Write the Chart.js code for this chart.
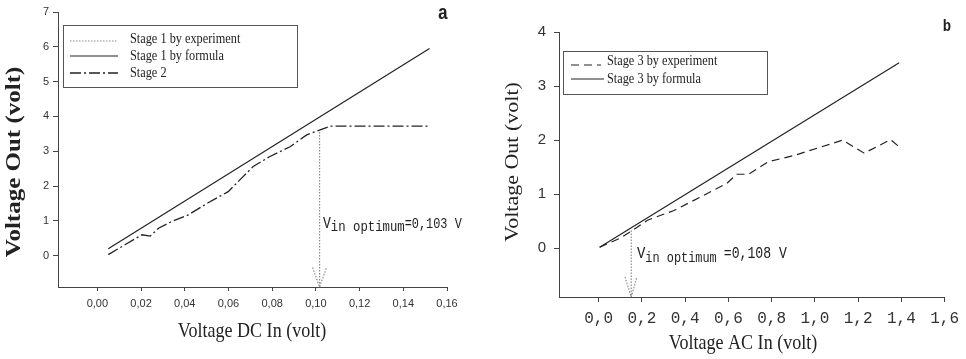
<!DOCTYPE html>
<html>
<head>
<meta charset="utf-8">
<script src="https://cdn.jsdelivr.net/npm/chart.js"></script>
<style>
	body { margin: 0; background: #fff; }
	#wrap { position: relative; width: 966px; height: 359px; overflow: hidden; }
	canvas { position: absolute; top: 0; }
	#chart-a { left: 0; }
	#chart-b { left: 480px; }
</style>
</head>
<body>
<div id="wrap">
	<canvas id="chart-a" width="480" height="359"></canvas>
	<canvas id="chart-b" width="486" height="359"></canvas>
</div>
<script>
// ---- panel a (DC) ----
const xTicksA = [0, 0.02, 0.04, 0.06, 0.08, 0.1, 0.12, 0.14, 0.16]
const xLabelsA = ['0,00', '0,02', '0,04', '0,06', '0,08', '0,10', '0,12', '0,14', '0,16']
const yTicksA = [0, 1, 2, 3, 4, 5, 6, 7]

const stage1FormulaX = [0.005, 0.152]
const stage1FormulaY = [0.2, 5.95]
const stage2X = [0.005, 0.0128, 0.0204, 0.0242, 0.028, 0.034, 0.0416, 0.0507, 0.0599, 0.0667, 0.0713, 0.079, 0.0882, 0.0958, 0.1065, 0.152]
const stage2Y = [0.03, 0.32, 0.6, 0.56, 0.79, 0.98, 1.17, 1.52, 1.84, 2.27, 2.56, 2.85, 3.13, 3.47, 3.72, 3.72]
// vertical drop at the optimum (dotted)
const stage1ExpX = [0.1017, 0.1017]
const stage1ExpY = [3.55, -0.9]
const arrowAX = [0.0985, 0.1017, 0.1049]
const arrowAY = [-0.34, -0.9, -0.34]

// ---- panel b (AC) ----
const xTicksB = [0, 0.2, 0.4, 0.6, 0.8, 1.0, 1.2, 1.4, 1.6]
const xLabelsB = ['0,0', '0,2', '0,4', '0,6', '0,8', '1,0', '1,2', '1,4', '1,6']
const yTicksB = [0, 1, 2, 3, 4]

const stage3FormulaX = [0.005, 1.39]
const stage3FormulaY = [0.02, 3.43]
const stage3ExpX = [0.005, 0.096, 0.157, 0.226, 0.349, 0.486, 0.593, 0.639, 0.693, 0.784, 0.907, 1.128, 1.228, 1.35, 1.389]
const stage3ExpY = [0.02, 0.18, 0.33, 0.52, 0.7, 0.98, 1.2, 1.37, 1.37, 1.6, 1.72, 2.0, 1.76, 2.01, 1.88]
const dropBX = [0.151, 0.151]
const dropBY = [0.33, -0.9]
const arrowBX = [0.122, 0.151, 0.177]
const arrowBY = [-0.53, -0.9, -0.53]

const toPts = (xs, ys) => xs.map((x, i) => ({ x: x, y: ys[i] }))

const INK = '#222'
const AXIS = '#444'
const GREY = '#8a8a8a'
const SQ = 0.82 // the source picture is squeezed horizontally

function txt(ctx, s, x, y, font, opt) {
	opt = opt || {}
	ctx.save()
	ctx.translate(x, y)
	if (opt.rot) {
		ctx.rotate(-Math.PI / 2)
		ctx.scale(1, SQ)
	} else {
		ctx.scale(SQ, 1)
	}
	ctx.font = font
	ctx.fillStyle = opt.color || INK
	ctx.textAlign = opt.align || 'left'
	ctx.textBaseline = opt.base || 'middle'
	ctx.fillText(s, 0, 0)
	const w = ctx.measureText(s).width * SQ
	ctx.restore()
	return w
}

function line(ctx, x1, y, x2, ds) {
	ctx.save()
	ctx.strokeStyle = ds.borderColor
	ctx.lineWidth = ds.borderWidth
	ctx.setLineDash(ds.borderDash || [])
	ctx.beginPath()
	ctx.moveTo(x1, y)
	ctx.lineTo(x2, y)
	ctx.stroke()
	ctx.restore()
}

function series(label, pts, color, dash, width) {
	return {
		label: label,
		data: pts,
		showLine: true,
		borderColor: color,
		borderWidth: width || 1.2,
		borderDash: dash,
		pointRadius: 0,
		tension: 0,
		fill: false,
	}
}

function axes(xMin, xMax, xTicks, xLabels, yMin, yMax, yTicks, cfg) {
	return {
		x: {
			type: 'linear',
			min: xMin,
			max: xMax,
			afterBuildTicks: s => { s.ticks = xTicks.map(v => ({ value: v })) },
			afterFit: s => { s.height = cfg.xh },
			border: { display: true, color: AXIS, width: 1 },
			grid: { drawOnChartArea: false, drawTicks: true, tickLength: cfg.xtl, color: AXIS },
			ticks: {
				autoSkip: false,
				maxRotation: 0,
				padding: cfg.xpad,
				color: '#333',
				font: cfg.xfont,
				callback: (v, i) => xLabels[i],
			},
		},
		y: {
			type: 'linear',
			min: yMin,
			max: yMax,
			afterBuildTicks: s => { s.ticks = yTicks.map(v => ({ value: v })) },
			afterFit: s => { s.width = cfg.yw },
			border: { display: true, color: AXIS, width: 1 },
			grid: { drawOnChartArea: false, drawTicks: true, tickLength: 5, color: AXIS },
			ticks: {
				autoSkip: false,
				padding: cfg.ypad,
				color: '#333',
				font: cfg.yfont,
				callback: v => String(v),
			},
		},
	}
}

const dsA = [
	series('Stage 1 by experiment', toPts(stage1ExpX, stage1ExpY), GREY, [1.5, 1.5], 1.2),
	series('Stage 1 by formula', toPts(stage1FormulaX, stage1FormulaY), INK, [], 1.2),
	series('Stage 2', toPts(stage2X, stage2Y), INK, [11, 3, 2, 3], 1.3),
	series('arrow', toPts(arrowAX, arrowAY), GREY, [1.5, 1.5], 1.2),
]

const decorA = {
	id: 'decorA',
	afterDraw(chart) {
		const ctx = chart.ctx
		const ds = chart.data.datasets
		// legend box
		ctx.save()
		ctx.strokeStyle = '#555'
		ctx.lineWidth = 1
		ctx.strokeRect(63.5, 25.5, 234, 62)
		ctx.restore()
		const rows = [[0, 39, 41], [1, 56, 56], [2, 73, 73]]
		rows.forEach(r => {
			line(ctx, 70, r[2], 118, ds[r[0]])
			txt(ctx, ds[r[0]].label, 130, r[1], '15px "Liberation Serif"')
		})
		// panel letter
		txt(ctx, 'a', 443, 14, 'bold 21px "Liberation Mono"', { align: 'center' })
		// axis titles
		txt(ctx, 'Voltage Out (volt)', 15, 162, 'bold 25px "Liberation Serif"', { rot: true, align: 'center' })
		txt(ctx, 'Voltage DC In (volt)', 252, 331, '22px "Liberation Serif"', { align: 'center' })
		// optimum note
		let x = 323
		x += txt(ctx, 'V', x, 228, '16px "Liberation Mono"', { base: 'alphabetic' })
		x += txt(ctx, 'in optimum', x, 231, '15px "Liberation Mono"', { base: 'alphabetic' })
		txt(ctx, '=0,103 V', x, 228, '14.5px "Liberation Mono"', { base: 'alphabetic' })
	},
}

new Chart(document.getElementById('chart-a').getContext('2d'), {
	type: 'scatter',
	data: { datasets: dsA },
	options: {
		responsive: false,
		animation: false,
		layout: { padding: { top: 12, right: 33, left: 0, bottom: 0 } },
		plugins: { legend: { display: false }, tooltip: { enabled: false } },
		scales: axes(-0.018, 0.16, xTicksA, xLabelsA, -0.9, 7, yTicksA, {
			xh: 72, yw: 58, xtl: 4, xpad: 6, ypad: 4,
			xfont: { family: 'Liberation Sans', size: 11 },
			yfont: { family: 'Liberation Sans', size: 11 },
		}),
	},
	plugins: [decorA],
})

const dsB = [
	series('Stage 3 by experiment', toPts(stage3ExpX, stage3ExpY), INK, [8, 5], 1.2),
	series('Stage 3 by formula', toPts(stage3FormulaX, stage3FormulaY), INK, [], 1.2),
	series('drop', toPts(dropBX, dropBY), GREY, [1.5, 1.5], 1.2),
	series('arrow', toPts(arrowBX, arrowBY), GREY, [1.5, 1.5], 1.2),
]

const decorB = {
	id: 'decorB',
	afterDraw(chart) {
		const ctx = chart.ctx
		const ds = chart.data.datasets
		ctx.save()
		ctx.strokeStyle = '#555'
		ctx.lineWidth = 1
		ctx.strokeRect(83.5, 51.5, 204, 43)
		ctx.restore()
		line(ctx, 91, 65, 121, ds[0])
		txt(ctx, ds[0].label, 127, 61, '15px "Liberation Serif"')
		line(ctx, 91, 79, 124, ds[1])
		txt(ctx, ds[1].label, 127, 79, '15px "Liberation Serif"')
		txt(ctx, 'b', 467, 27, 'bold 17px "Liberation Mono"', { align: 'center' })
		txt(ctx, 'Voltage Out (volt)', 33, 162, '22px "Liberation Serif"', { rot: true, align: 'center' })
		txt(ctx, 'Voltage AC In (volt)', 263, 343, '22px "Liberation Serif"', { align: 'center' })
		let x = 157
		x += txt(ctx, 'V', x, 258, '17px "Liberation Mono"', { base: 'alphabetic' })
		x += txt(ctx, 'in optimum ', x, 262, '14.5px "Liberation Mono"', { base: 'alphabetic' })
		txt(ctx, '=0,108 V', x, 258, '16px "Liberation Mono"', { base: 'alphabetic' })
	},
}

new Chart(document.getElementById('chart-b').getContext('2d'), {
	type: 'scatter',
	data: { datasets: dsB },
	options: {
		responsive: false,
		animation: false,
		layout: { padding: { top: 32, right: 18, left: 0, bottom: 0 } },
		plugins: { legend: { display: false }, tooltip: { enabled: false } },
		scales: axes(-0.183, 1.6, xTicksB, xLabelsB, -0.9, 4, yTicksB, {
			xh: 62, yw: 79, xtl: 5, xpad: 7, ypad: 8,
			xfont: { family: 'Liberation Mono', size: 16 },
			yfont: { family: 'Liberation Sans', size: 15 },
		}),
	},
	plugins: [decorB],
})
</script>
</body>
</html>
